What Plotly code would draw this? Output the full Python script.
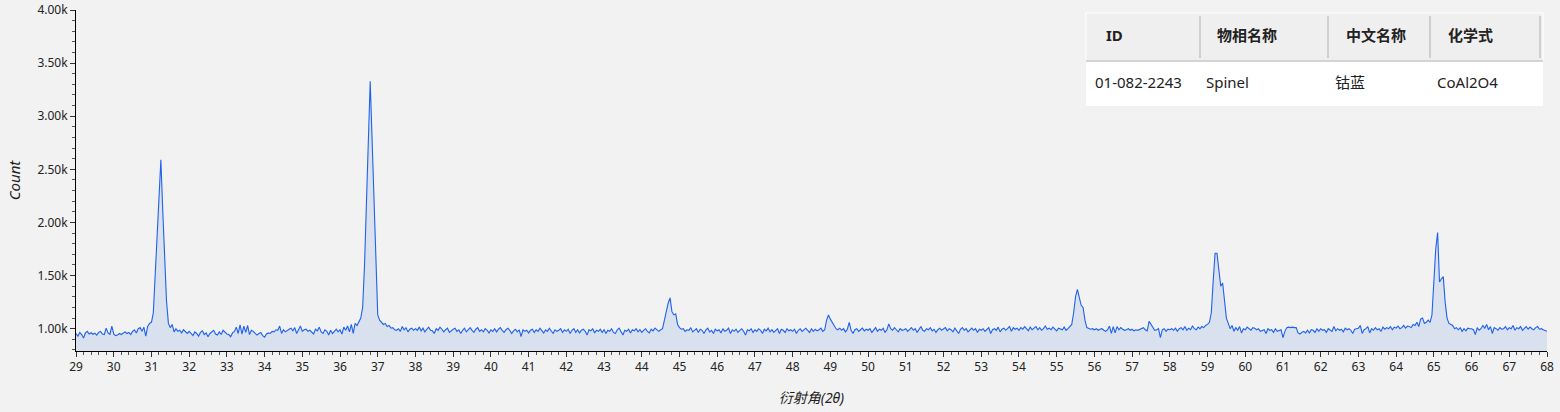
import plotly.graph_objects as go

# ---------------- data ----------------
scan_start = 29.0
scan_step = 0.05

# Count values, one row per degree (29.00 .. 29.95, 30.00 .. 30.95, ...), last value at 68.00
counts_29 = [955, 930, 965, 945, 912, 960, 975, 950, 962, 948, 958, 940, 965, 975, 950, 945, 1005, 960, 948, 1025]
counts_30 = [950, 935, 940, 955, 945, 960, 970, 955, 965, 945, 975, 990, 960, 1000, 1010, 975, 1015, 930, 1020, 1050]
counts_31 = [1060, 1150, 1520, 1890, 2260, 2590, 2110, 1690, 1260, 1050, 1010, 1040, 970, 1000, 975, 985, 960, 990, 970, 955]
counts_32 = [975, 950, 935, 970, 955, 930, 965, 980, 945, 960, 925, 955, 975, 985, 950, 940, 970, 945, 985, 965]
counts_33 = [950, 945, 925, 960, 975, 1015, 955, 1035, 950, 1025, 965, 1030, 945, 985, 975, 955, 940, 955, 965, 935]
counts_34 = [920, 950, 960, 955, 975, 970, 990, 985, 1025, 955, 990, 970, 985, 995, 1005, 980, 1010, 955, 990, 1025]
counts_35 = [975, 990, 995, 975, 985, 965, 950, 995, 980, 1015, 970, 955, 990, 975, 940, 985, 955, 975, 995, 970]
counts_36 = [990, 950, 1015, 985, 1025, 970, 1040, 955, 1050, 1030, 1070, 1100, 1200, 1600, 2180, 2750, 3330, 2780, 2230, 1680]
counts_37 = [1130, 1080, 1060, 1040, 1050, 1020, 1030, 1005, 1010, 990, 985, 1000, 975, 1020, 990, 1010, 970, 995, 1005, 985]
counts_38 = [1000, 985, 1015, 980, 1005, 970, 995, 1015, 985, 980, 955, 1000, 985, 1015, 995, 970, 990, 1005, 965, 985]
counts_39 = [995, 1005, 975, 990, 955, 985, 1005, 970, 990, 1010, 985, 965, 995, 1010, 975, 990, 970, 1000, 985, 960]
counts_40 = [990, 975, 1000, 970, 995, 1010, 985, 965, 990, 1005, 985, 955, 980, 995, 970, 990, 925, 990, 975, 985]
counts_41 = [960, 985, 995, 965, 990, 975, 1005, 985, 960, 990, 975, 1005, 975, 955, 990, 975, 985, 1000, 965, 990]
counts_42 = [975, 995, 955, 985, 1000, 965, 990, 960, 985, 995, 975, 940, 990, 980, 1000, 960, 985, 975, 995, 965]
counts_43 = [990, 955, 985, 975, 1000, 965, 955, 990, 1005, 975, 940, 985, 975, 995, 960, 990, 980, 1000, 970, 990]
counts_44 = [965, 985, 1000, 975, 960, 995, 980, 1005, 985, 975, 990, 1000, 1080, 1170, 1240, 1290, 1160, 1130, 1140, 1040]
counts_45 = [1010, 995, 1000, 975, 990, 985, 1010, 970, 990, 1000, 965, 995, 985, 955, 990, 1005, 970, 985, 955, 995]
counts_46 = [980, 990, 960, 1000, 975, 985, 1005, 955, 990, 975, 995, 965, 985, 1000, 975, 940, 990, 980, 1000, 965]
counts_47 = [990, 975, 1000, 985, 955, 995, 980, 1005, 970, 990, 965, 985, 1000, 955, 995, 985, 965, 1000, 980, 990]
counts_48 = [975, 995, 955, 985, 1000, 975, 990, 1005, 985, 965, 1000, 975, 995, 980, 990, 1005, 975, 990, 1080, 1130]
counts_49 = [1090, 1060, 1020, 1000, 990, 1005, 985, 1000, 970, 995, 1060, 985, 955, 990, 1000, 975, 990, 1005, 980, 995]
counts_50 = [985, 1000, 965, 990, 1010, 975, 995, 985, 1005, 965, 990, 1045, 1000, 985, 1010, 990, 970, 1000, 985, 990]
counts_51 = [1000, 975, 990, 1010, 985, 1000, 965, 995, 1020, 985, 975, 1000, 990, 1010, 980, 995, 965, 990, 1005, 985]
counts_52 = [995, 1010, 980, 1000, 990, 970, 1005, 985, 955, 995, 1010, 985, 1000, 970, 990, 1005, 985, 1000, 965, 995]
counts_53 = [985, 1000, 975, 995, 1010, 955, 990, 1000, 985, 1015, 970, 995, 1005, 985, 1000, 1020, 975, 1010, 995, 1005]
counts_54 = [985, 1010, 995, 1020, 1000, 980, 1015, 990, 1005, 1020, 990, 1010, 985, 1000, 1025, 995, 1005, 990, 1015, 1000]
counts_55 = [980, 1005, 1000, 990, 1015, 985, 1000, 1020, 1040, 1150, 1300, 1370, 1290, 1220, 1200, 1080, 1010, 1000, 995, 1000]
counts_56 = [990, 1000, 985, 995, 1000, 985, 975, 990, 1025, 955, 1020, 960, 1020, 990, 1010, 995, 985, 990, 1000, 985]
counts_57 = [995, 980, 990, 985, 995, 1000, 1010, 990, 980, 1070, 1040, 1010, 985, 990, 1000, 915, 990, 1000, 975, 995]
counts_58 = [990, 1000, 985, 1005, 975, 1000, 1010, 990, 1020, 985, 1005, 990, 1025, 1000, 990, 1015, 1000, 1020, 1010, 1030]
counts_59 = [1040, 1060, 1150, 1450, 1710, 1710, 1550, 1400, 1430, 1250, 1100, 1050, 1000, 1030, 975, 1010, 985, 1020, 960, 1000]
counts_60 = [990, 1015, 1000, 985, 1010, 1005, 990, 1000, 975, 985, 990, 955, 1000, 985, 990, 965, 1000, 975, 985, 990]
counts_61 = [915, 975, 1010, 1015, 1010, 1015, 1010, 1010, 960, 950, 965, 975, 960, 985, 960, 990, 985, 965, 1000, 975]
counts_62 = [1000, 985, 990, 965, 1000, 990, 975, 1020, 980, 1000, 985, 995, 970, 1005, 990, 1000, 985, 955, 995, 1000]
counts_63 = [1005, 1030, 955, 990, 1000, 1020, 960, 1000, 985, 1010, 990, 1000, 975, 1015, 995, 1010, 1000, 1020, 990, 1015]
counts_64 = [1005, 1025, 1000, 1010, 1030, 1005, 1025, 1020, 1010, 1040, 1030, 1060, 1020, 1090, 1100, 1050, 1060, 1080, 1060, 1130]
counts_65 = [1500, 1750, 1905, 1440, 1470, 1490, 1250, 1100, 1050, 1040, 1030, 1000, 1010, 990, 1010, 975, 1000, 980, 1005, 1000]
counts_66 = [1000, 990, 945, 1010, 985, 1000, 1030, 1005, 1040, 990, 1020, 955, 1010, 1000, 985, 1010, 995, 1000, 1020, 990]
counts_67 = [1010, 1000, 1030, 985, 1010, 1000, 1020, 985, 1005, 1020, 995, 1015, 1000, 990, 1010, 1020, 995, 1000, 990, 985]
counts_68 = [975]

count_rows = [counts_29, counts_30, counts_31, counts_32, counts_33, counts_34, counts_35,
              counts_36, counts_37, counts_38, counts_39, counts_40, counts_41, counts_42,
              counts_43, counts_44, counts_45, counts_46, counts_47, counts_48, counts_49,
              counts_50, counts_51, counts_52, counts_53, counts_54, counts_55, counts_56,
              counts_57, counts_58, counts_59, counts_60, counts_61, counts_62, counts_63,
              counts_64, counts_65, counts_66, counts_67, counts_68]
counts = [v for row in count_rows for v in row]
two_theta = [round(scan_start + scan_step * i, 2) for i in range(len(counts))]

y_tick_vals = [1000, 1500, 2000, 2500, 3000, 3500, 4000]
y_tick_text = ["1.00k", "1.50k", "2.00k", "2.50k", "3.00k", "3.50k", "4.00k"]
x_tick_vals = list(range(29, 69))

table_headers = ["ID", "物相名称", "中文名称", "化学式"]
table_row = ["01-082-2243", "Spinel", "钴蓝", "CoAl2O4"]

# ---------------- figure ----------------
W, H = 1560, 412
ML, MR, MT, MB = 76, 13, 10, 61
PW, PH = W - ML - MR, H - MT - MB

def px(x):
    return (x - ML) / PW

def py(y):
    return (H - MB - y) / PH

FONT = "Noto Sans, Noto Sans CJK SC, sans-serif"

fig = go.Figure()
fig.add_trace(go.Scatter(
    x=two_theta, y=counts, mode="lines",
    line=dict(color="#1F62EE", width=1.1),
    fill="tozeroy", fillcolor="rgba(40,95,215,0.12)",
    hoverinfo="x+y", showlegend=False,
))

# table drawn with shapes + annotations
col_edges = [1086, 1200, 1328, 1430, 1543]
tbl_top, hdr_bot, tbl_bot = 13, 61, 106
shapes = []
shapes.append(dict(type="rect", xref="paper", yref="paper",
                   x0=px(col_edges[0]), x1=px(col_edges[-1]), y0=py(tbl_top), y1=py(hdr_bot),
                   fillcolor="#EFEFEF", line=dict(color="#FFFFFF", width=1), layer="above"))
shapes.append(dict(type="rect", xref="paper", yref="paper",
                   x0=px(col_edges[0]), x1=px(col_edges[-1]), y0=py(hdr_bot), y1=py(tbl_bot),
                   fillcolor="#FFFFFF", line=dict(width=0), layer="above"))
shapes.append(dict(type="line", xref="paper", yref="paper",
                   x0=px(col_edges[0]), x1=px(col_edges[-1]), y0=py(hdr_bot), y1=py(hdr_bot),
                   line=dict(color="#D4D4D4", width=2), layer="above"))
for cx in [1200, 1328, 1430, 1540]:
    shapes.append(dict(type="line", xref="paper", yref="paper",
                       x0=px(cx), x1=px(cx), y0=py(16), y1=py(58),
                       line=dict(color="#CFCFCF", width=2), layer="above"))

annotations = []
hdr_x = [1104, 1215, 1344, 1446]
row_x = [1093, 1204, 1333, 1435]
for t, xx in zip(table_headers, hdr_x):
    annotations.append(dict(text="<b>" + t + "</b>", xref="paper", yref="paper",
                            x=px(xx), y=py(35), xanchor="left", yanchor="middle",
                            showarrow=False, font=dict(family=FONT, size=15, color="#222222")))
for t, xx in zip(table_row, row_x):
    annotations.append(dict(text=t, xref="paper", yref="paper",
                            x=px(xx), y=py(82), xanchor="left", yanchor="middle",
                            showarrow=False, font=dict(family=FONT, size=15, color="#222222")))

fig.update_layout(
    width=W, height=H,
    margin=dict(l=ML, r=MR, t=MT, b=MB, autoexpand=False),
    paper_bgcolor="#F2F2F2", plot_bgcolor="#F2F2F2",
    font=dict(family=FONT, size=12, color="#222222"),
    shapes=shapes, annotations=annotations,
    xaxis=dict(
        range=[29, 68], tickmode="array", tickvals=x_tick_vals, automargin=False,
        ticks="outside", ticklen=5, tickcolor="#333333", tickwidth=1,
        minor=dict(dtick=0.2, tick0=29, ticks="outside", ticklen=3, tickcolor="#555555"),
        showline=True, linecolor="#000000", linewidth=1, showgrid=False, zeroline=False,
        tickfont=dict(size=12),
        title=dict(text="<i>衍射角(2θ)</i>", font=dict(size=14), standoff=18),
    ),
    yaxis=dict(
        range=[790, 4000], tickmode="array", tickvals=y_tick_vals, ticktext=y_tick_text,
        automargin=False,
        ticks="outside", ticklen=5, tickcolor="#333333", tickwidth=1,
        minor=dict(dtick=100, tick0=0, ticks="outside", ticklen=3, tickcolor="#555555"),
        showline=True, linecolor="#000000", linewidth=1, showgrid=False, zeroline=False,
        tickfont=dict(size=12),
        title=dict(text="<i>Count</i>", font=dict(size=15), standoff=13),
    ),
)

fig.write_html("out.html", config={"displayModeBar": False},
               post_script="document.body.style.margin='0px';")
